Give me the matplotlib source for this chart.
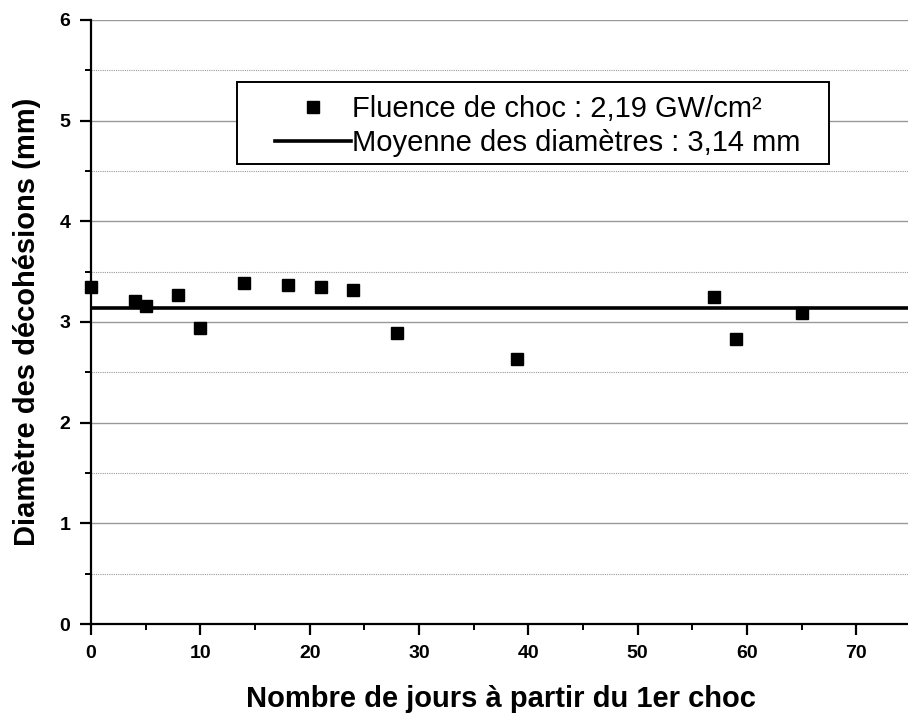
import matplotlib
matplotlib.use("Agg")
import matplotlib.pyplot as plt
from matplotlib.patches import Rectangle
from matplotlib.ticker import MultipleLocator

plt.rcParams['font.family'] = ['Liberation Sans', 'DejaVu Sans']

# data
jours = [0, 4, 5, 8, 10, 14, 18, 21, 24, 28, 39, 57, 59, 65]
diametres = [3.35, 3.21, 3.16, 3.27, 2.94, 3.39, 3.37, 3.35, 3.32, 2.89, 2.63, 3.25, 2.83, 3.09]
moyenne = 3.14

fig = plt.figure(figsize=(9.08, 7.18), dpi=100)
ax = fig.add_axes([0.1002, 0.1309, 0.903, 0.8413])

ax.set_xlim(0, 75)
ax.set_ylim(0, 6)

# grid: solid on major, dotted on minor
ax.yaxis.set_major_locator(MultipleLocator(1))
ax.yaxis.set_minor_locator(MultipleLocator(0.5))
ax.xaxis.set_major_locator(MultipleLocator(10))
ax.xaxis.set_minor_locator(MultipleLocator(5))
ax.grid(axis='y', which='major', color='#999999', lw=1.0, ls='-')
ax.grid(axis='y', which='minor', color='#999999', lw=0.8, ls=(0, (1, 1)))
ax.set_axisbelow(True)

ax.axhline(moyenne, color='black', lw=2.6, label='Moyenne des diamètres : 3,14 mm', zorder=3)
ax.plot(jours, diametres, 's', color='black', ms=8.5, ls='none',
        label='Fluence de choc : 2,19 GW/cm²', zorder=4, clip_on=False)

for s in ['top', 'right']:
    ax.spines[s].set_visible(False)
for s in ['left', 'bottom']:
    ax.spines[s].set_linewidth(1.6)

ax.tick_params(which='major', direction='out', length=8, width=1.6, labelsize=14, pad=7)
ax.tick_params(which='minor', direction='out', length=4, width=1.4)
for lab in ax.get_xticklabels() + ax.get_yticklabels():
    lab.set_fontweight('bold')

ax.set_xlabel('Nombre de jours à partir du 1er choc', fontsize=21, fontweight='bold', labelpad=17)
ax.set_ylabel('Diamètre des décohésions (mm)', fontsize=21, fontweight='bold', labelpad=13)

# legend box drawn separately so its padding can be wider than tall
ax.add_patch(Rectangle((0.178, 0.7616), 0.722, 0.1358, transform=ax.transAxes,
                       facecolor='white', edgecolor='black', lw=1.4, zorder=5))
h, l = ax.get_legend_handles_labels()
leg = ax.legend([h[1], h[0]], [l[1], l[0]], loc='upper left', bbox_to_anchor=(0.2244, 0.876),
                fontsize=21, frameon=False, handlelength=2.6, handletextpad=0.05,
                borderpad=0, labelspacing=0.22, borderaxespad=0)
leg.set_zorder(6)

fig.savefig('out.png', dpi=100)
